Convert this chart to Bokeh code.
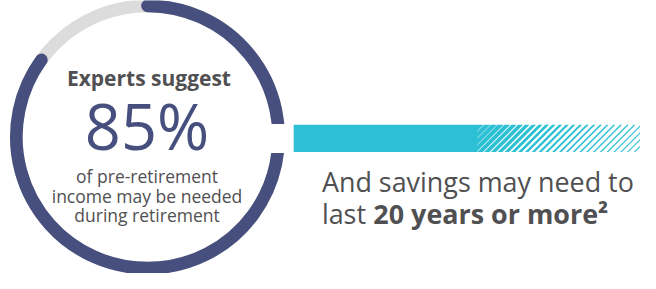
from bokeh.plotting import figure
from bokeh.models import Range1d
from bokeh.embed import file_html
from bokeh.resources import INLINE
from bokeh.core.properties import value
import numpy as np

# ---- data ----
pct_needed = 85          # percent of pre-retirement income
years_needed = 20        # years savings may need to last
headline = ["Experts suggest"]
big_label = ["85%"]
sub_lines = ["of pre-retirement", "income may be needed", "during retirement"]
right_line1 = ["And savings may need to"]
right_line2_plain = ["last"]
right_line2_bold = ["20 years or more²"]

NAVY = "#464F7D"
GRAY_RING = "#DCDCDC"
TEAL = "#2DC0D4"
TEXT = "#505052"
FONT = value("Open Sans")

W, H = 640, 273
s = 273 / 281.0
xa = -3.8
p = figure(width=W, height=H, output_backend="svg", toolbar_location=None,
           x_range=Range1d(xa, xa + W / s), y_range=Range1d(1, 282),
           min_border=0)
p.axis.visible = False
p.grid.visible = False
p.outline_line_color = None
p.background_fill_color = "white"
p.border_fill_color = "white"

def Y(ry):
    return 289 - ry

def fs(px):
    return "%.1fpx" % (px * s)

K = 0.32  # renderer places alphabetic baseline ~0.32em low; compensate

def TY(ry, px):
    return Y(ry) + K * px

cx, cy, r = 147.5, Y(147.5), 135.0
ring_w = 13 * s

# background ring
p.arc(x=[cx], y=[cy], radius=r, start_angle=0, end_angle=2 * np.pi,
      line_color=GRAY_RING, line_width=ring_w)
# progress arc: clockwise from top covering pct_needed
sweep = 2 * np.pi * pct_needed / 100.0
start = np.pi / 2 + (2 * np.pi - sweep)
p.arc(x=[cx], y=[cy], radius=r, start_angle=start, end_angle=np.pi / 2 + 2 * np.pi,
      direction="anticlock", line_color=NAVY, line_width=ring_w, line_cap="round")

# texts in circle
p.text(x=[149], y=[TY(94, 21.6)], text=headline, text_align="center", text_baseline="alphabetic",
       text_font=FONT, text_font_style="bold", text_font_size=fs(21.6), text_color=TEXT)
p.text(x=[147], y=[TY(156.5, 65)], text=big_label, text_align="center", text_baseline="alphabetic",
       text_font=FONT, text_font_size=fs(65), text_color=NAVY)
p.text(x=[147] * 3, y=[TY(193, 18), TY(213.5, 18), TY(234, 18)], text=sub_lines, text_align="center",
       text_baseline="alphabetic", text_font=FONT, text_font_size=fs(18), text_color=TEXT)

# bar: solid part, then diagonal stripes fading out
bar_l, bar_solid, bar_r = 298, 487, 655
bt, bb = Y(135), Y(163)
bh = bt - bb
p.quad(left=[bar_solid], right=[bar_r], top=[bt], bottom=[bb], fill_color="white", line_color=None)
pitch = 7.0
frac_x = [487, 520, 550, 600, 655]
frac_v = [0.92, 0.7, 0.5, 0.32, 0.22]
xs, ys = [], []
xk = bar_solid - bh
while xk < bar_r:
    f = float(np.interp(xk + bh / 2, frac_x, frac_v))
    w = f * pitch
    xs.append([xk, xk + w, xk + w + bh, xk + bh])
    ys.append([bb, bb, bt, bt])
    xk += pitch
p.patches(xs=xs, ys=ys, fill_color=TEAL, line_color=None)
# mask stripes outside bar's stripe region
p.quad(left=[bar_r], right=[bar_r + 60], top=[bt + 1], bottom=[bb - 1], fill_color="white", line_color=None)
p.quad(left=[bar_l - 40], right=[bar_l], top=[bt + 1], bottom=[bb - 1], fill_color="white", line_color=None)
p.quad(left=[bar_l], right=[bar_solid], top=[bt], bottom=[bb], fill_color=TEAL, line_color=None)

# right texts
p.text(x=[327], y=[TY(202, 27.7)], text=right_line1, text_align="left", text_baseline="alphabetic",
       text_font=FONT, text_font_size=fs(27.7), text_color=TEXT)
p.text(x=[327], y=[TY(235, 27.7)], text=right_line2_plain, text_align="left", text_baseline="alphabetic",
       text_font=FONT, text_font_size=fs(27.7), text_color=TEXT)
p.text(x=[380], y=[TY(235, 27.7)], text=right_line2_bold, text_align="left", text_baseline="alphabetic",
       text_font=FONT, text_font_style="bold", text_font_size=fs(27.7), text_color=TEXT)

open("out.html", "w").write(file_html(p, INLINE))
